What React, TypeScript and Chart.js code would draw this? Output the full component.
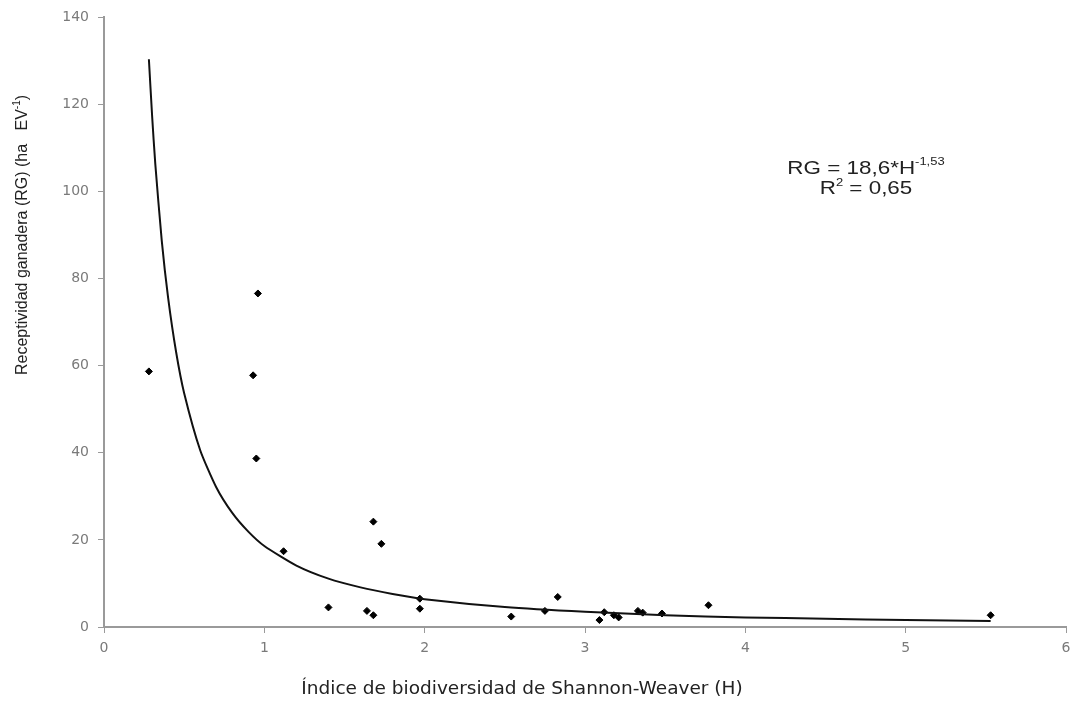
import { useEffect, useRef } from "react";
import { Chart, registerables } from "chart.js";
Chart.register(...registerables);

// Observed points: Shannon-Weaver index (H) vs receptividad ganadera (RG)
const shannonH = [0.28, 0.93, 0.95, 0.96, 1.12, 1.40, 1.64, 1.68, 1.68, 1.73, 1.97, 1.97, 2.54, 2.75, 2.83, 3.09, 3.12, 3.18, 3.21, 3.33, 3.36, 3.48, 3.77, 5.53];
const receptividad = [58.7, 57.8, 38.7, 76.6, 17.4, 4.5, 3.7, 2.7, 24.2, 19.1, 6.5, 4.2, 2.4, 3.7, 6.9, 1.6, 3.4, 2.7, 2.2, 3.7, 3.3, 3.1, 5.0, 2.7];

// Trend curve
const curveH = [0.28, 0.30, 0.32, 0.36, 0.40, 0.45, 0.50, 0.60, 0.70, 0.80, 0.90, 1.00, 1.20, 1.40, 1.60, 1.80, 2.00, 2.50, 3.00, 3.50, 4.00, 4.50, 5.00, 5.53];
const curveRG = [130.4, 117.4, 106.3, 88.8, 75.6, 63.1, 53.7, 40.6, 32.1, 26.2, 21.9, 18.6, 14.1, 11.1, 9.1, 7.6, 6.4, 4.6, 3.5, 2.7, 2.2, 1.9, 1.6, 1.4];

const xTicks = [0, 1, 2, 3, 4, 5, 6];
const yTicks = [0, 20, 40, 60, 80, 100, 120, 140];

const yTitle = [{ t: "Receptividad ganadera (RG) (ha   EV" }, { t: "-1", sup: true }, { t: ")" }];
const xTitle = [{ t: "Índice de biodiversidad de Shannon-Weaver (H)" }];
const eqLine1 = [{ t: "RG = 18,6*H" }, { t: "-1,53", sup: true }];
const eqLine2 = [{ t: "R" }, { t: "2", sup: true }, { t: " = 0,65" }];

type Seg = { t: string; sup?: boolean };

function drawSegs(ctx: CanvasRenderingContext2D, segs: Seg[], cx: number, cy: number, size: number, family: string, color: string) {
  const supSize = Math.round(size * 0.6);
  let total = 0;
  const widths = segs.map((s) => {
    ctx.font = `${s.sup ? supSize : size}px ${family}`;
    const w = ctx.measureText(s.t).width;
    total += w;
    return w;
  });
  let x = cx - total / 2;
  ctx.fillStyle = color;
  ctx.textBaseline = "middle";
  ctx.textAlign = "left";
  segs.forEach((s, i) => {
    ctx.font = `${s.sup ? supSize : size}px ${family}`;
    ctx.fillText(s.t, x, cy + (s.sup ? -size * 0.33 : 0));
    x += widths[i];
  });
}

const ARIAL = "'Liberation Sans', Arial, sans-serif";
const VERDANA = "'DejaVu Sans', Verdana, sans-serif";

const textPlugin = {
  id: "texts",
  afterDraw(chart: any) {
    const ctx = chart.ctx as CanvasRenderingContext2D;
    ctx.save();
    ctx.translate(23, 235);
    ctx.rotate(-Math.PI / 2);
    drawSegs(ctx, yTitle, 0, 0, 16, ARIAL, "#222");
    ctx.restore();

    ctx.save();
    drawSegs(ctx, xTitle, 522, 689, 18.5, VERDANA, "#222");
    ctx.restore();

    ctx.save();
    ctx.translate(866, 168.5);
    ctx.scale(1.18, 1);
    drawSegs(ctx, eqLine1, 0, 0, 19, ARIAL, "#222");
    ctx.restore();

    ctx.save();
    ctx.translate(866, 189);
    ctx.scale(1.18, 1);
    drawSegs(ctx, eqLine2, 0, 0, 19, ARIAL, "#222");
    ctx.restore();
  },
};

export default function App() {
  const ref = useRef<HTMLCanvasElement | null>(null);
  useEffect(() => {
    if (!ref.current) return;
    const chart = new Chart(ref.current, {
      type: "scatter",
      data: {
        datasets: [
          {
            label: "curve",
            data: curveH.map((x, i) => ({ x, y: curveRG[i] })),
            showLine: true,
            borderColor: "#111",
            borderWidth: 2,
            pointRadius: 0,
            tension: 0.2,
            fill: false,
          },
          {
            label: "datos",
            data: shannonH.map((x, i) => ({ x, y: receptividad[i] })),
            pointStyle: "rectRot",
            pointRadius: 3.5,
            backgroundColor: "#000",
            borderColor: "#000",
            borderWidth: 1,
          },
        ],
      },
      options: {
        responsive: false,
        animation: false,
        layout: { padding: { top: 17, right: 12, left: 0, bottom: 0 } },
        plugins: { legend: { display: false }, tooltip: { enabled: false } },
        scales: {
          x: {
            type: "linear",
            min: 0,
            max: 6,
            afterBuildTicks: (s: any) => { s.ticks = xTicks.map((v) => ({ value: v })); },
            afterFit: (s: any) => { s.height = 80; },
            ticks: { color: "#7a7a7a", font: { size: 14, family: VERDANA }, padding: 7 },
            grid: { display: true, drawOnChartArea: false, tickLength: 6, color: "#9a9a9a" },
            border: { color: "#9a9a9a", width: 2 },
          },
          y: {
            type: "linear",
            min: 0,
            max: 140,
            afterBuildTicks: (s: any) => { s.ticks = yTicks.map((v) => ({ value: v })); },
            afterFit: (s: any) => { s.width = 104; },
            ticks: { color: "#7a7a7a", font: { size: 14, family: VERDANA }, padding: 9 },
            grid: { display: true, drawOnChartArea: false, tickLength: 6, color: "#9a9a9a" },
            border: { color: "#9a9a9a", width: 2 },
          },
        },
      },
      plugins: [textPlugin],
    });
    return () => chart.destroy();
  }, []);
  return (
    <div style={{ position: "fixed", left: 0, top: 0, width: 1078, height: 707, background: "#fff" }}>
      <canvas ref={ref} width={1078} height={707} style={{ display: "block" }} />
    </div>
  );
}
